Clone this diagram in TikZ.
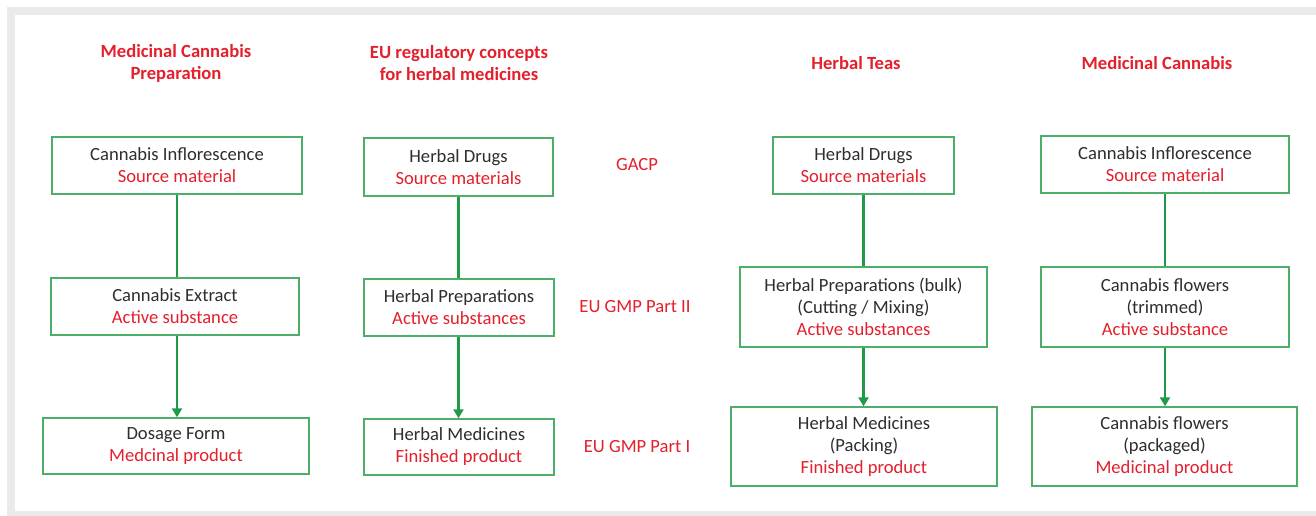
\documentclass[tikz,border=0pt]{standalone}
\usepackage{fontspec}
\setmainfont{Carlito}
\usetikzlibrary{arrows.meta}
\definecolor{myred}{HTML}{E3202C}
\definecolor{mygreen}{HTML}{4DAE6A}
\definecolor{arrgreen}{HTML}{1E9A48}
\definecolor{txt}{HTML}{2E2E2E}
\definecolor{frame}{HTML}{EAEAEA}
\tikzset{
  box/.style={draw=mygreen, line width=1.4pt, fill=white, align=center, inner sep=0pt,
    text=txt, font=\fontsize{18.6}{22}\selectfont},
  title/.style={text=myred, font=\bfseries\fontsize{18.6}{22}\selectfont, align=center},
  lbl/.style={text=myred, font=\fontsize{18.6}{22}\selectfont},
  link/.style={draw=arrgreen, line width=2.6pt},
  arr/.style={link, -{Triangle[width=10pt,length=9pt]}},
}
\newcommand{\rd}[1]{\textcolor{myred}{#1}}
\begin{document}
\begin{tikzpicture}[x=1pt,y=-1pt]
\useasboundingbox (0,0) rectangle (1316,516);
\fill[white] (0,0) rectangle (1316,516);
\fill[frame] (7,7) rectangle (1320,520);
\fill[white] (15,15) rectangle (1320,511);

% titles
\node[title] (T1) at (176,63) {Medicinal Cannabis\\Preparation};
\node[title] (T2) at (459,63) {EU regulatory concepts\\for herbal medicines};
\node[title] (T3) at (856,63) {Herbal Teas};
\node[title] (T4) at (1157,63) {Medicinal Cannabis};

% column 1
\node[box, minimum width=250pt, minimum height=57pt] (A1) at (177,165.5) {Cannabis Inflorescence\\\rd{Source material}};
\node[box, minimum width=248pt, minimum height=57pt] (A2) at (175,306.5) {Cannabis Extract\\\rd{Active substance}};
\node[box, minimum width=266pt, minimum height=56pt] (A3) at (176,446) {Dosage Form\\\rd{Medcinal product}};

% column 2
\node[box, minimum width=189pt, minimum height=58pt] (B1) at (458.5,167) {Herbal Drugs\\\rd{Source materials}};
\node[box, minimum width=190pt, minimum height=57pt] (B2) at (459,307.5) {Herbal Preparations\\\rd{Active substances}};
\node[box, minimum width=190pt, minimum height=56pt] (B3) at (459,447) {Herbal Medicines\\\rd{Finished product}};

% labels
\node[lbl] (L1) at (637,165) {GACP};
\node[lbl] (L2) at (635,307) {EU GMP Part II};
\node[lbl] (L3) at (637,447) {EU GMP Part I};

% column 3
\node[box, minimum width=181pt, minimum height=57pt] (C1) at (863.5,165.5) {Herbal Drugs\\\rd{Source materials}};
\node[box, minimum width=247pt, minimum height=80pt] (C2) at (863.5,307) {Herbal Preparations (bulk)\\(Cutting / Mixing)\\\rd{Active substances}};
\node[box, minimum width=266pt, minimum height=79pt] (C3) at (864,446.5) {Herbal Medicines\\(Packing)\\\rd{Finished product}};

% column 4
\node[box, minimum width=248pt, minimum height=57pt] (D1) at (1165,164.5) {Cannabis Inflorescence\\\rd{Source material}};
\node[box, minimum width=248pt, minimum height=80pt] (D2) at (1165,307) {Cannabis flowers\\(trimmed)\\\rd{Active substance}};
\node[box, minimum width=265pt, minimum height=79pt] (D3) at (1164.5,446.5) {Cannabis flowers\\(packaged)\\\rd{Medicinal product}};

% connectors
\draw[link] (A1.south) -- (A1.south |- A2.north);
\draw[arr] (A1.south |- A2.south) -- (A1.south |- A3.north);
\draw[link] (B1.south) -- (B1.south |- B2.north);
\draw[arr] (B1.south |- B2.south) -- (B1.south |- B3.north);
\draw[link] (C1.south) -- (C1.south |- C2.north);
\draw[arr] (C1.south |- C2.south) -- (C1.south |- C3.north);
\draw[link] (D1.south) -- (D1.south |- D2.north);
\draw[arr] (D1.south |- D2.south) -- (D1.south |- D3.north);
\end{tikzpicture}
\end{document}
